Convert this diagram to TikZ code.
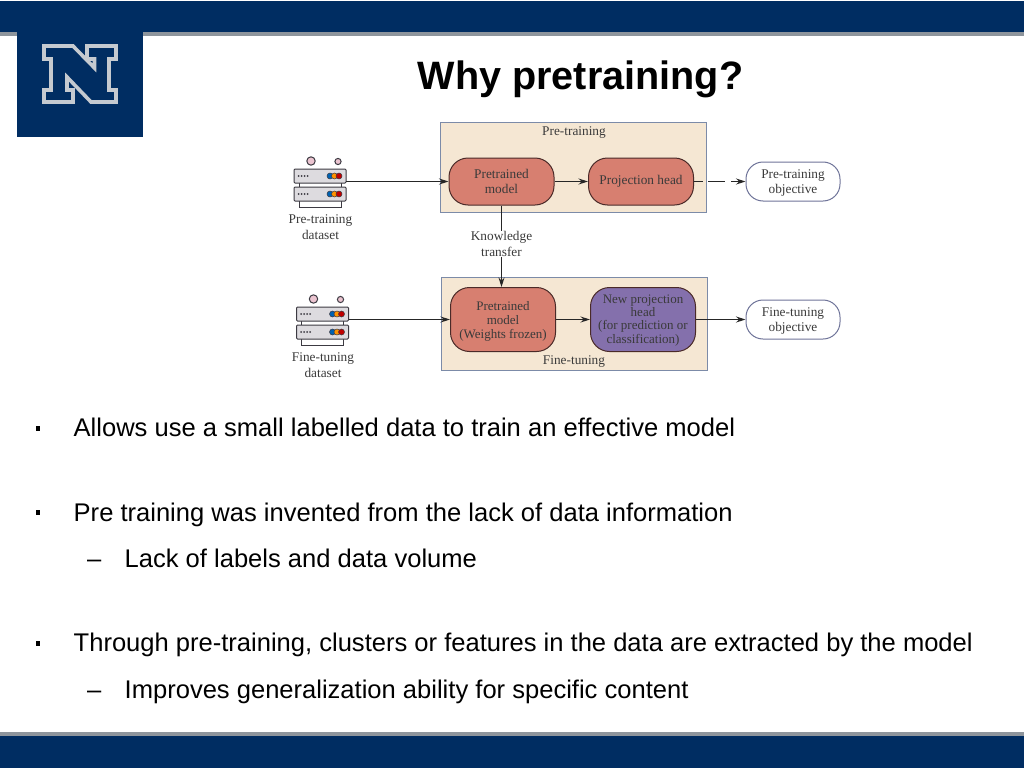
\documentclass[tikz,border=0pt]{standalone}
\usepackage{fontspec}
\setmainfont{Liberation Sans}
\newfontfamily\figfont{Liberation Serif}
\definecolor{navy}{HTML}{002D62}
\definecolor{barshade}{HTML}{8E959C}
\definecolor{logogrey}{HTML}{C5CAD0}
\definecolor{panelfill}{HTML}{F5E7D3}
\definecolor{panelline}{HTML}{7C8BA8}
\definecolor{redfill}{HTML}{D77F70}
\definecolor{redline}{HTML}{4A2A28}
\definecolor{purplefill}{HTML}{8470AC}
\definecolor{objline}{HTML}{6F7499}
\definecolor{figtext}{HTML}{3A3A3A}
\definecolor{srvfill}{HTML}{DDDBDF}
\definecolor{srvline}{HTML}{3C3A42}
\definecolor{srvpink}{HTML}{EBC4D0}
\usetikzlibrary{arrows.meta}
\tikzset{
	panel/.style={draw=panelline, fill=panelfill, line width=1pt},
	block/.style={draw=redline, fill=redfill, line width=1pt, rounded corners=19pt, minimum height=47pt, font=\figfont\fontsize{13.3}{15.8}\selectfont, text=figtext, align=center, inner sep=0pt},
	objective/.style={draw=objline, fill=white, line width=1pt, rounded corners=17pt, minimum width=94pt, minimum height=39pt, font=\figfont\fontsize{13.3}{15.8}\selectfont, text=figtext, align=center, inner sep=0pt},
	figlabel/.style={font=\figfont\fontsize{13.3}{15.8}\selectfont, text=figtext, align=center, inner sep=0pt},
	bullet/.style={anchor=base west, font=\fontsize{25.55}{30}\selectfont, text=black, inner sep=0pt},
	link/.style={draw=black!85, line width=1.1pt, -{Stealth[length=9.5pt, width=6pt]}},
}
% taller first line, moves the text of a node down a little
\newcommand{\lowertext}[1]{\rule{0pt}{#1}}
% one server stack, #1 = name of its centre
\newcommand{\serverstack}[2]{
	\coordinate (#1) at (#2);
	\begin{scope}[shift={(#1)}, draw=srvline, line width=1pt]
		\filldraw[fill=srvpink] (-9,-22) circle (4.2pt);
		\filldraw[fill=srvpink] (18,-21.5) circle (3.1pt);
		\filldraw[fill=white] (-21,16) rectangle (21,24);
		\filldraw[fill=white] (-21,-2) rectangle (21,6);
		\filldraw[fill=srvfill, rounded corners=1pt] (-26,-14) rectangle (26,0);
		\filldraw[fill=srvfill, rounded corners=1pt] (-26,4) rectangle (26,18);
		\foreach \y in {-7,11}{
			\foreach \x in {-21.5,-18.5,-15.5,-12.5}{
				\fill[srvline] (\x,\y) circle (1pt);
			}
			\filldraw[fill=blue!45!cyan!70!black, line width=0.5pt] (10,\y) circle (3pt);
			\filldraw[fill=orange!85!yellow, line width=0.5pt] (14.5,\y) circle (3pt);
			\filldraw[fill=red!75!black, line width=0.5pt] (19,\y) circle (3pt);
		}
	\end{scope}
}
\begin{document}
\begin{tikzpicture}[x=1pt, y=-1pt, >=stealth]
	\useasboundingbox (0,0) rectangle (1024,768);
	\fill[white] (0,0) rectangle (1024,768);
	% top and bottom bars
	\fill[barshade] (0,31) rectangle (1024,36);
	\fill[navy] (0,1) rectangle (1024,32);
	\fill[barshade] (0,732) rectangle (1024,737);
	\fill[navy] (0,736) rectangle (1024,768);
	% logo
	\fill[navy] (17,30) rectangle (143,137);
	\draw[logogrey, line width=3.6pt, line join=miter]
	(44,46)--(73,46)--(94.5,68)--(94.5,59)--(87,59)--(87,46)--(116,46)--(116,59)--(109,59)--(109,90)--(116,90)--(116,102)--(91,102)--(67,77)--(67,90)--(73,90)--(73,102)--(44,102)--(44,90)--(51,90)--(51,59)--(44,59)--cycle
	;
	\node[font=\bfseries\fontsize{39.6}{44}\selectfont, anchor=base] (title) at (580.5,89) {Why pretraining?};
	% panels
	\draw[panel] (440,122) rectangle (706,212);
	\draw[panel] (441,277) rectangle (707,370);
	\node[figlabel] (pretitle) at (574,133) {Pre-training};
	\node[figlabel] (finetitle) at (574,362) {Fine-tuning};
	% blocks
	\node[block, minimum width=105pt] (pretrained) at (501.5,181.5) {Pretrained\\model};
	\node[block, minimum width=105pt] (projection) at (641,181.5) {Projection head};
	\node[objective] (preobj) at (793,181.5) {\lowertext{12pt}Pre-training\\objective};
	\node[block, minimum width=105pt, minimum height=64pt, font=\figfont\fontsize{13}{14}\selectfont] (frozen) at (503,319.5) {\lowertext{13pt}Pretrained\\model\\(Weights frozen)};
	\node[block, minimum width=105pt, minimum height=64pt, fill=purplefill, font=\figfont\fontsize{13}{13.3}\selectfont] (newhead) at (643,319.5) {\lowertext{10pt}New projection\\head\\(for prediction or\\classification)};
	\node[objective] (fineobj) at (793,319.5) {\lowertext{12pt}Fine-tuning\\objective};
	% servers
	\serverstack{preserver}{320,183}
	\serverstack{fineserver}{322.5,321}
	\node[figlabel] (predata) at (320.5,227) {Pre-training\\dataset};
	\node[figlabel] (finedata) at (323,365) {Fine-tuning\\dataset};
	\node[figlabel] (transfer) at (501.5,244) {Knowledge\\transfer};
	% connectors
	\coordinate (preout) at (346,181.5);
	\coordinate (fineout) at (348.5,319.5);
	\draw[link] (preout)--(pretrained.west|-preout);
	\draw[link] (fineout)--(frozen.west|-fineout);
	\draw[link] (pretrained.east)--(projection.west);
	\draw[link] (frozen.east)--(newhead.west);
	\draw[link] (newhead.east)--(fineobj.west);
	\draw[link, dash pattern=on 9pt off 5pt on 17pt off 6pt on 20pt] (projection.east)--(preobj.west);
	\draw[draw=black!85, line width=1.1pt] (pretrained.south)--(transfer.north);
	\draw[link] (transfer.south)--(frozen.north-|transfer.south);
	% bullets
	\node[bullet] (one) at (73.5,436.5) {Allows use a small labelled data to train an effective model};
	\node[bullet] (two) at (73.5,521) {Pre training was invented from the lack of data information};
	\node[bullet] (twoa) at (124.5,567) {Lack of labels and data volume};
	\node[bullet] (three) at (73.5,651.5) {Through pre-training, clusters or features in the data are extracted by the model};
	\node[bullet] (threea) at (124.5,698) {Improves generalization ability for specific content};
	\foreach \name/\ypos in {m1/428, m2/512, m3/643}{
		\fill[black] (35.5,\ypos-2) rectangle (40,\ypos+2.5);
	}
	\node[bullet] (dasha) at (87,567) {–};
	\node[bullet] (dashb) at (87,698) {–};
\end{tikzpicture}
\end{document}
